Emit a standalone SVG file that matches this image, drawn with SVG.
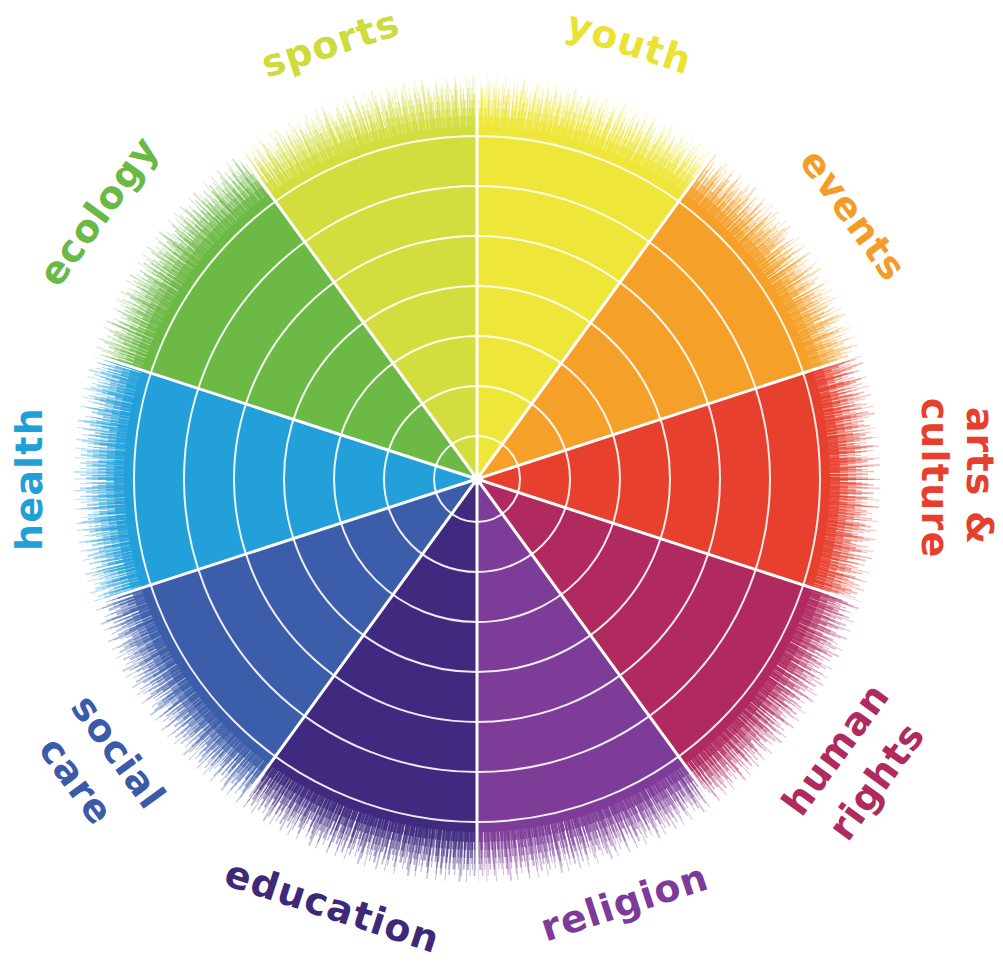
<svg xmlns="http://www.w3.org/2000/svg" width="1003" height="965" viewBox="0 0 1003 965">
<style>
.lbl{font-family:"DejaVu Sans","Liberation Sans",sans-serif;font-weight:bold;font-size:38px;letter-spacing:1.2px;text-anchor:middle}
.ring{fill:none;stroke:#fff;stroke-width:2;stroke-opacity:0.9}
.spoke{stroke:#fff;stroke-width:3;stroke-linecap:round}
.st{fill:none;stroke:#fff}
</style>
<defs>
<mask id="fuzz" maskUnits="userSpaceOnUse" x="0" y="0" width="1003" height="965">
<rect x="0" y="0" width="1003" height="965" fill="#000"/>
<circle cx="477" cy="479" r="353" fill="#fff"/>
<circle class="st" cx="477" cy="479" r="357" stroke-width="12" stroke-opacity="0.85" stroke-dasharray="3 0.8 2 1 4 0.6 1.5 0.8"/>
<circle class="st" cx="477" cy="479" r="361" stroke-width="20" stroke-opacity="0.65" stroke-dasharray="2 1 1.5 2 3 1 1 1.5 2.5 0.8"/>
<circle class="st" cx="477" cy="479" r="365" stroke-width="28" stroke-opacity="0.55" stroke-dasharray="1.5 1.5 2 1 1 2.5 3 1.2 1 2"/>
<circle class="st" cx="477" cy="479" r="368" stroke-width="34" stroke-opacity="0.45" stroke-dasharray="1 2 2.5 1.5 1 3 1.5 1 2 2.5 1 1.8"/>
<circle class="st" cx="477" cy="479" r="371" stroke-width="40" stroke-opacity="0.4" stroke-dasharray="1 3 2 2 1.5 4 1 2.5 2.5 3 1 2"/>
<circle class="st" cx="477" cy="479" r="374" stroke-width="46" stroke-opacity="0.35" stroke-dasharray="1 4 1.5 6 2 3 1 7 1.5 5"/>
<circle class="st" cx="477" cy="479" r="377" stroke-width="52" stroke-opacity="0.3" stroke-dasharray="1 7 1.5 10 1 5 2 12 1 8"/>
</mask>
</defs>
<rect width="1003" height="965" fill="#fff"/>
<g id="youth">
<path d="M477 479 L477 59 A420 420 0 0 1 723.9 139.2 Z" fill="#EEE638" mask="url(#fuzz)"/>
<text class="lbl" fill="#EAE334" transform="translate(629 44) rotate(18)" dy="0.3em">youth</text>
</g>
<g id="events">
<path d="M477 479 L723.9 139.2 A420 420 0 0 1 876.5 349.2 Z" fill="#F5A028" mask="url(#fuzz)"/>
<text class="lbl" fill="#F39C28" transform="translate(852 216) rotate(54)" dy="0.3em">events</text>
</g>
<g id="arts-culture">
<path d="M477 479 L876.5 349.2 A420 420 0 0 1 876.5 608.8 Z" fill="#E8402E" mask="url(#fuzz)"/>
<text class="lbl" fill="#E63F2D" transform="translate(978 476) rotate(90)" dy="0.3em">arts &amp;</text>
<text class="lbl" fill="#E63F2D" transform="translate(933 478) rotate(90)" dy="0.3em">culture</text>
</g>
<g id="human-rights">
<path d="M477 479 L876.5 608.8 A420 420 0 0 1 723.9 818.8 Z" fill="#B02A5F" mask="url(#fuzz)"/>
<text class="lbl" fill="#B02A5E" transform="translate(837 750) rotate(-54)" dy="0.3em">human</text>
<text class="lbl" fill="#B02A5E" transform="translate(878 782) rotate(-54)" dy="0.3em">rights</text>
</g>
<g id="religion">
<path d="M477 479 L723.9 818.8 A420 420 0 0 1 477 899 Z" fill="#7D3C98" mask="url(#fuzz)"/>
<text class="lbl" fill="#7E3A98" transform="translate(625 904) rotate(-18)" dy="0.3em">religion</text>
</g>
<g id="education">
<path d="M477 479 L477 899 A420 420 0 0 1 230.1 818.8 Z" fill="#3F2A7F" mask="url(#fuzz)"/>
<text class="lbl" fill="#3D2978" transform="translate(332 908) rotate(18)" dy="0.3em">education</text>
</g>
<g id="social-care">
<path d="M477 479 L230.1 818.8 A420 420 0 0 1 77.5 608.8 Z" fill="#3C5DAA" mask="url(#fuzz)"/>
<text class="lbl" fill="#3B5BAA" transform="translate(117 753) rotate(54)" dy="0.3em">social</text>
<text class="lbl" fill="#3B5BAA" transform="translate(75 782) rotate(54)" dy="0.3em">care</text>
</g>
<g id="health">
<path d="M477 479 L77.5 608.8 A420 420 0 0 1 77.5 349.2 Z" fill="#23A0DA" mask="url(#fuzz)"/>
<text class="lbl" fill="#21A0D8" transform="translate(31 479) rotate(-90)" dy="0.3em">health</text>
</g>
<g id="ecology">
<path d="M477 479 L77.5 349.2 A420 420 0 0 1 230.1 139.2 Z" fill="#6DB946" mask="url(#fuzz)"/>
<text class="lbl" fill="#6AB845" transform="translate(100 212) rotate(-54)" dy="0.3em">ecology</text>
</g>
<g id="sports">
<path d="M477 479 L230.1 139.2 A420 420 0 0 1 477 59 Z" fill="#D3DE3E" mask="url(#fuzz)"/>
<text class="lbl" fill="#CEDB3A" transform="translate(331 45) rotate(-18)" dy="0.3em">sports</text>
</g>
<g id="connectors">
<circle class="ring" cx="477" cy="479" r="43"/>
<circle class="ring" cx="477" cy="479" r="93"/>
<circle class="ring" cx="477" cy="479" r="143"/>
<circle class="ring" cx="477" cy="479" r="193"/>
<circle class="ring" cx="477" cy="479" r="243"/>
<circle class="ring" cx="477" cy="479" r="293"/>
<circle class="ring" cx="477" cy="479" r="343"/>
<line class="spoke" x1="477" y1="479" x2="477" y2="74"/>
<line class="spoke" x1="477" y1="479" x2="715.1" y2="151.4"/>
<line class="spoke" x1="477" y1="479" x2="862.2" y2="353.9"/>
<line class="spoke" x1="477" y1="479" x2="862.2" y2="604.1"/>
<line class="spoke" x1="477" y1="479" x2="715.1" y2="806.6"/>
<line class="spoke" x1="477" y1="479" x2="477" y2="884"/>
<line class="spoke" x1="477" y1="479" x2="238.9" y2="806.6"/>
<line class="spoke" x1="477" y1="479" x2="91.8" y2="604.1"/>
<line class="spoke" x1="477" y1="479" x2="91.8" y2="353.9"/>
<line class="spoke" x1="477" y1="479" x2="238.9" y2="151.4"/>
<circle cx="477" cy="479" r="6" fill="#fff"/>
</g>
</svg>
